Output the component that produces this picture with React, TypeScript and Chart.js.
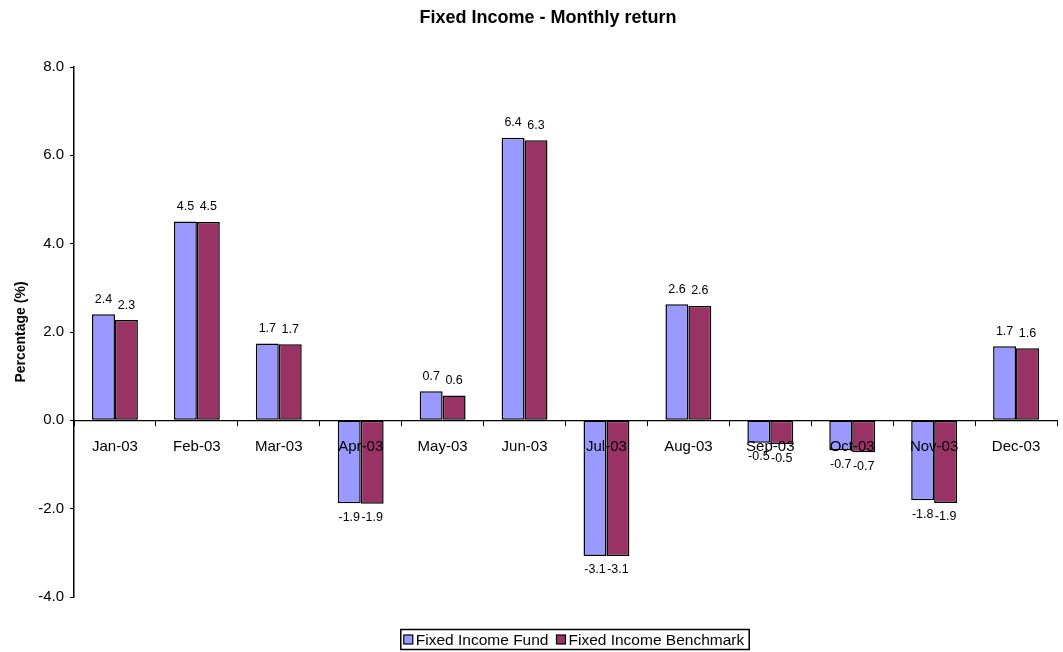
import React, { useEffect, useRef } from "react";
import { Chart, registerables } from "chart.js";

Chart.register(...registerables);

const TITLE = "Fixed Income - Monthly return";
const Y_TITLE = "Percentage (%)";
const MONTHS = ["Jan-03", "Feb-03", "Mar-03", "Apr-03", "May-03", "Jun-03", "Jul-03", "Aug-03", "Sep-03", "Oct-03", "Nov-03", "Dec-03"];
const FUND_NAME = "Fixed Income Fund";
const BENCH_NAME = "Fixed Income Benchmark";
const FUND = [2.4, 4.5, 1.74, -1.88, 0.66, 6.4, -3.07, 2.63, -0.51, -0.68, -1.81, 1.68];
const BENCH = [2.27, 4.49, 1.72, -1.89, 0.56, 6.34, -3.07, 2.59, -0.54, -0.72, -1.87, 1.63];
const Y_MIN = -4;
const Y_MAX = 8;
const Y_STEP = 2;

const FONT = "'Liberation Sans', Arial, sans-serif";
const FUND_COLOR = "#9999FF";
const BENCH_COLOR = "#993366";

const decorPlugin = {
  id: "decor",
  afterDatasetsDraw(chart: any) {
    const ctx = chart.ctx;
    ctx.save();
    ctx.font = `12.5px ${FONT}`;
    ctx.fillStyle = "#000";
    ctx.textAlign = "center";
    ctx.textBaseline = "middle";
    chart.data.datasets.forEach((ds: any, i: number) => {
      const meta = chart.getDatasetMeta(i);
      meta.data.forEach((el: any, j: number) => {
        const v = ds.data[j] as number;
        const txt = v.toFixed(1);
        const y = v >= 0 ? el.y - 15 : el.y + 14;
        ctx.fillText(txt, el.x, y);
      });
    });
    ctx.restore();
  },
  afterDraw(chart: any) {
    const ctx = chart.ctx;
    ctx.save();
    // Title
    ctx.font = `bold 18px ${FONT}`;
    ctx.fillStyle = "#000";
    ctx.textAlign = "center";
    ctx.textBaseline = "middle";
    ctx.fillText(TITLE, 548, 18);

    // Legend
    ctx.font = `15.5px ${FONT}`;
    const items = [
      { name: FUND_NAME, color: FUND_COLOR },
      { name: BENCH_NAME, color: BENCH_COLOR },
    ];
    const box = 9;
    const gapAfterBox = 3;
    const gapItems = 8;
    let total = 0;
    items.forEach((it, i) => {
      total += box + gapAfterBox + ctx.measureText(it.name).width;
      if (i < items.length - 1) total += gapItems;
    });
    const cx = 574;
    const pad = 3;
    let x = cx - total / 2;
    const top = 629.5;
    const h = 20;
    ctx.strokeStyle = "#000";
    ctx.lineWidth = 1.5;
    ctx.strokeRect(x - pad, top, total + pad * 2 + 2, h);
    const midY = top + h / 2;
    ctx.textAlign = "left";
    items.forEach((it) => {
      ctx.fillStyle = it.color;
      ctx.fillRect(x, midY - box / 2, box, box);
      ctx.lineWidth = 1.2;
      ctx.strokeStyle = "#000";
      ctx.strokeRect(x, midY - box / 2, box, box);
      x += box + gapAfterBox;
      ctx.fillStyle = "#000";
      ctx.fillText(it.name, x, midY + 1);
      x += ctx.measureText(it.name).width + gapItems;
    });
    ctx.restore();
  },
};

export default function App() {
  const ref = useRef<HTMLCanvasElement | null>(null);
  useEffect(() => {
    if (!ref.current) return;
    const chart = new Chart(ref.current, {
      type: "bar",
      data: {
        labels: MONTHS,
        datasets: [
          {
            label: FUND_NAME,
            data: FUND,
            backgroundColor: FUND_COLOR,
            borderColor: "#000",
            borderWidth: 1.5,
            borderSkipped: false,
            categoryPercentage: 0.56,
            barPercentage: 1,
          },
          {
            label: BENCH_NAME,
            data: BENCH,
            backgroundColor: BENCH_COLOR,
            borderColor: "#000",
            borderWidth: 1.5,
            borderSkipped: false,
            categoryPercentage: 0.56,
            barPercentage: 1,
          },
        ],
      },
      options: {
        animation: false,
        responsive: true,
        maintainAspectRatio: false,
        layout: { padding: { left: 0, right: 6, top: 67, bottom: 55 } },
        plugins: {
          legend: { display: false },
          title: { display: false },
          tooltip: { enabled: false },
        },
        scales: {
          x: {
            position: { y: 0 } as any,
            grid: {
              display: true,
              drawOnChartArea: false,
              drawTicks: true,
              tickLength: 5,
              color: "#000",
              offset: true,
              z: 1,
            },
            border: { display: true, color: "#000", width: 1.2, z: 1 },
            ticks: {
              color: "#000",
              font: { family: FONT, size: 15 },
              padding: 13,
              maxRotation: 0,
              autoSkip: false,
              z: 2,
            },
          },
          y: {
            min: Y_MIN,
            max: Y_MAX,
            afterFit: (s: any) => {
              s.width = 74;
            },
            grid: {
              display: true,
              drawOnChartArea: false,
              drawTicks: true,
              tickLength: 4,
              color: "#000",
            },
            border: { display: true, color: "#000", width: 1.5 },
            ticks: {
              stepSize: Y_STEP,
              color: "#000",
              font: { family: FONT, size: 15 },
              padding: 6,
              callback: (v: any) => Number(v).toFixed(1),
            },
            title: {
              display: true,
              text: Y_TITLE,
              color: "#000",
              font: { family: FONT, size: 14, weight: "bold" },
              padding: { top: 13, bottom: 0 },
            },
          },
        },
      },
      plugins: [decorPlugin],
    });
    return () => chart.destroy();
  }, []);
  return (
    <div style={{ position: "fixed", left: 0, top: 0, width: 1063, height: 652, background: "#fff" }}>
      <canvas ref={ref} />
    </div>
  );
}
